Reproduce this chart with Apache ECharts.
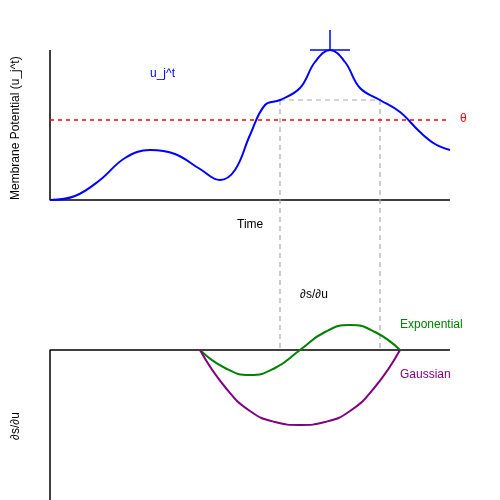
<!DOCTYPE html>
<html><head><meta charset="utf-8">
<script src="https://cdn.jsdelivr.net/npm/echarts@6/dist/echarts.min.js"></script>
<style>html,body{margin:0;padding:0;background:#fff}#c{width:500px;height:500px}</style>
</head><body><div id="c"></div>
<script>
const potential = [[50,200],[75,196],[100,180],[125,158],[150,150],[175,154],[200,169],[220,180],[235,170],[250,135],[265,105],[280,100],[300,88],[315,62],[330,50],[345,62],[360,88],[380,100],[400,112],[420,132],[435,144],[450,150]];
const threshold = [[50,120],[450,120]];
const exponential = [[200,350],[225,368],[250,375],[275,368],[300,350],[325,332],[350,325],[375,332],[400,350]];
const gaussian = [[200,350],[225,387],[250,411],[275,422],[300,425],[325,422],[350,411],[375,387],[400,350]];
const guideH = [[280,100],[380,100]];
const guideL = [[280,100],[280,350]];
const guideR = [[380,100],[380,350]];
const spikeV = [[330,30],[330,50]];
const spikeH = [[310,50],[350,50]];
const axisTop = [[50,50],[50,200],[450,200]];
const axisBot = [[450,350],[50,350],[50,500]];
const texts = [
 {t:'u_j^t',x:150,y:75,c:'blue'},{t:'θ',x:460,y:120,c:'red'},{t:'Time',x:237,y:226,c:'#000'},
 {t:'∂s/∂u',x:300,y:296,c:'#000'},{t:'Exponential',x:400,y:326,c:'green'},{t:'Gaussian',x:400,y:376,c:'purple'}
];
function ln(d,color,w,type,smooth){return {type:'line',data:d,symbol:'none',smooth:smooth||false,lineStyle:{color:color,width:w,type:type||'solid'},silent:true,animation:false};}
const chart = echarts.init(document.getElementById('c'));
chart.setOption({
 animation:false,
 grid:{left:0,right:0,top:0,bottom:0},
 xAxis:{type:'value',min:0,max:500,show:false},
 yAxis:{type:'value',min:0,max:500,inverse:true,show:false},
 series:[
  ln(axisTop,'#000',1.5),ln(axisBot,'#000',1.5),
  ln(guideH,'#aaa',1.2,[5,4]),ln(guideL,'#aaa',1.2,[5,4]),ln(guideR,'#aaa',1.2,[5,4]),
  ln(threshold,'red',1.5,[4,4]),
  ln(potential,'blue',2,'solid',0.4),
  ln(spikeV,'blue',1.5),ln(spikeH,'blue',1.5),
  ln(exponential,'green',2,'solid',0.5),ln(gaussian,'purple',2,'solid',0.5)
 ],
 graphic:texts.map(o=>({type:'text',left:o.x,top:o.y-7,style:{text:o.t,fill:o.c,font:'12px "Liberation Sans", Arial'}})).concat([
  {type:'text',x:10,y:200,rotation:Math.PI/2,style:{text:'Membrane Potential (u_j^t)',fill:'#000',font:'12px "Liberation Sans", Arial',align:'left',verticalAlign:'top'}},
  {type:'text',x:10,y:440,rotation:Math.PI/2,style:{text:'∂s/∂u',fill:'#000',font:'12px "Liberation Sans", Arial',align:'left',verticalAlign:'top'}}
 ])
});
</script></body></html>
